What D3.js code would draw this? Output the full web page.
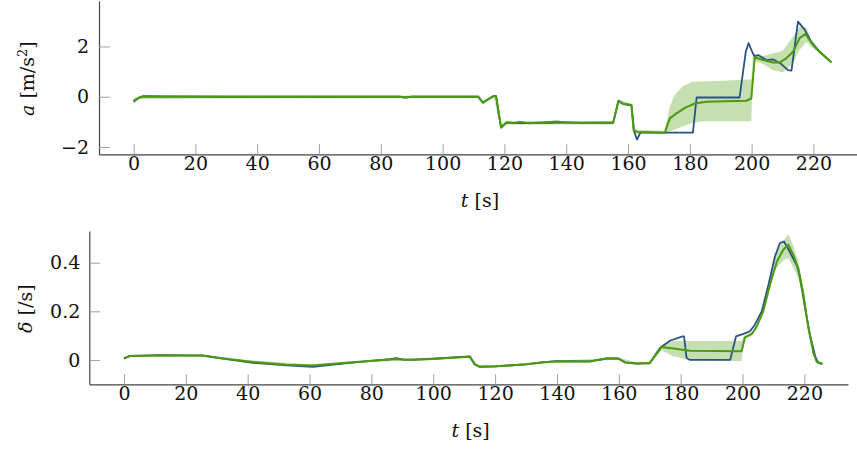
<!DOCTYPE html>
<html>
<head>
<meta charset="utf-8">
<script src="https://cdn.jsdelivr.net/npm/d3@7"></script>
<style>
	body { margin: 0; background: #fff; }
	svg { display: block; }
</style>
</head>
<body>
<svg id="chart" width="857" height="454"></svg>
<script>
// top panel: acceleration a [m/s^2]
const accRefT = [0, 1.5, 3, 10, 30, 50, 70, 86, 88, 90, 100, 111.5, 113, 116.5, 117.3, 118.9, 120.7, 125, 130, 135, 140, 145, 150, 155.2, 156.9, 158.4, 161.1, 162, 162.9, 164, 172, 181, 182.2, 196.1, 198.1, 199, 200.3, 201, 202.1, 204.8, 206.9, 209.6, 211.8, 212.9, 215, 217.2, 219.3, 222, 225.8];
const accRef = [-0.2, -0.05, 0.02, 0.01, 0, 0, 0, 0, -0.03, 0, 0, 0, -0.24, 0.03, 0.02, -1.23, -1.03, -1.05, -1.05, -1.04, -1.02, -1.04, -1.04, -1.04, -0.16, -0.29, -0.34, -1.39, -1.7, -1.43, -1.43, -1.43, -0.03, -0.03, 1.79, 2.13, 1.75, 1.6, 1.66, 1.46, 1.49, 1.3, 1.06, 1.04, 2.99, 2.66, 2.19, 1.79, 1.37];

const accEstT = [0, 1.5, 3, 20, 40, 60, 80, 86, 88, 90, 100, 111.5, 113, 116.5, 117.3, 118.9, 120.7, 123, 125, 128, 132, 137, 140, 145, 150, 155.2, 156.9, 158.4, 161.1, 161.8, 163, 171.9, 173.5, 175.7, 178.4, 181.6, 185.4, 198.3, 199.9, 201, 203.7, 206.9, 209, 211.2, 213.4, 215.5, 217.5, 218.3, 219.9, 222, 225.8];
const accEst = [-0.15, -0.05, 0, 0, 0, 0, 0, 0, -0.03, 0, 0, 0, -0.22, 0.03, 0.02, -1.2, -1.02, -1.05, -1.0, -1.05, -1.02, -0.98, -1.02, -1.03, -1.02, -1.02, -0.18, -0.28, -0.33, -1.33, -1.4, -1.43, -0.86, -0.66, -0.44, -0.27, -0.2, -0.16, -0.07, 1.57, 1.46, 1.36, 1.36, 1.53, 1.79, 2.33, 2.5, 2.33, 2.06, 1.79, 1.37];

const accBandT = [0, 2, 112, 113, 116.5, 118.9, 120.7, 155.2, 156.9, 161.1, 162, 171.9, 173.5, 175.1, 177.8, 181, 184.3, 199.9, 200.4, 203.7, 206.9, 209, 210.2, 213.4, 215.5, 217.7, 219.3, 222, 225.8];
const accBandLo = [-0.25, -0.08, -0.05, -0.3, -0.03, -1.3, -1.1, -1.1, -0.22, -0.4, -1.45, -1.48, -1.38, -1.3, -1.17, -1.03, -0.97, -0.97, 1.45, 1.3, 1.05, 1.0, 0.96, 1.33, 1.86, 2.19, 1.99, 1.72, 1.32];
const accBandHi = [-0.1, 0.05, 0.05, -0.18, 0.08, -1.15, -0.95, -0.97, -0.1, -0.28, -1.3, -1.36, -0.4, 0.07, 0.43, 0.6, 0.61, 0.69, 1.72, 1.62, 1.73, 1.78, 1.86, 2.39, 2.79, 2.76, 2.26, 1.86, 1.42];

// bottom panel: steering rate delta [/s]
const steerRefT = [0, 1.8, 12, 25.5, 30.9, 41.7, 52.5, 61.1, 73, 80.5, 86, 88.1, 90, 93.5, 99.7, 111.8, 113.4, 115, 120, 130, 135, 140, 150.6, 156, 159.8, 162, 165.8, 170, 173.3, 176.5, 180.6, 181.1, 181.9, 183, 196, 197.9, 200.3, 202.4, 204, 206.2, 208.4, 210.5, 212.1, 213.4, 214.3, 217.7, 218.6, 220.2, 221.8, 223.5, 224.5, 225.8];
const steerRef = [0.005, 0.016, 0.02, 0.018, 0.008, -0.012, -0.022, -0.028, -0.012, -0.003, 0.003, 0.008, 0.002, 0.001, 0.005, 0.015, -0.018, -0.028, -0.026, -0.018, -0.01, -0.005, -0.006, 0.006, 0.006, -0.01, -0.015, -0.012, 0.049, 0.079, 0.097, 0.097, 0.008, 0, 0, 0.097, 0.107, 0.118, 0.145, 0.2, 0.31, 0.426, 0.48, 0.487, 0.467, 0.385, 0.337, 0.214, 0.104, 0.015, -0.012, -0.016];

const steerEstT = [0, 1.8, 10, 25.5, 30.9, 41.7, 52.5, 61.1, 73, 80.5, 88.1, 90, 93.5, 99.7, 111.8, 113.4, 115, 120, 130, 135, 140, 150.6, 156, 159.8, 162, 165.8, 170, 173.8, 177.6, 183, 199.7, 200.8, 203, 204.6, 206.7, 208.9, 211.1, 213.2, 214.8, 216.4, 218, 219.7, 221.3, 222.9, 224, 225.8];
const steerEst = [0.007, 0.016, 0.018, 0.018, 0.008, -0.008, -0.02, -0.023, -0.01, -0.003, 0.004, 0.002, 0.001, 0.004, 0.013, -0.018, -0.028, -0.026, -0.018, -0.01, -0.005, -0.006, 0.006, 0.006, -0.01, -0.015, -0.013, 0.053, 0.047, 0.038, 0.036, 0.093, 0.107, 0.138, 0.2, 0.31, 0.405, 0.453, 0.474, 0.432, 0.378, 0.268, 0.131, 0.029, -0.008, -0.016];

const steerBandT = [0, 2, 25, 40, 60, 80, 100, 112, 114, 120, 140, 160, 166, 170, 172.5, 173.8, 177.6, 183, 199.7, 200.5, 203, 204.6, 206.7, 208.9, 210.5, 213.2, 214.8, 216.4, 218, 219.7, 221.3, 222.9, 224, 225.8];
const steerBandLo = [0.004, 0.013, 0.014, -0.008, -0.028, -0.008, 0.0, 0.01, -0.026, -0.032, -0.01, 0.001, -0.018, -0.019, 0.02, 0.04, 0.015, 0.001, -0.005, 0.085, 0.1, 0.13, 0.19, 0.295, 0.37, 0.41, 0.419, 0.38, 0.337, 0.245, 0.115, 0.022, -0.015, -0.022];
const steerBandHi = [0.012, 0.021, 0.022, 0.0, -0.018, 0.0, 0.008, 0.018, -0.018, -0.024, -0.002, 0.009, -0.01, -0.009, 0.035, 0.06, 0.078, 0.078, 0.078, 0.1, 0.115, 0.145, 0.21, 0.325, 0.425, 0.49, 0.517, 0.47, 0.405, 0.29, 0.145, 0.036, 0.0, -0.01];

// ticks
const timeTicks = [0, 20, 40, 60, 80, 100, 120, 140, 160, 180, 200, 220];
const accTicks = [-2, 0, 2];
const steerTicks = [0, 0.2, 0.4];

const refColor = '#2a5385';
const estColor = '#4c9a0f';
const bandColor = '#c6dfb1';
const serif = 'DejaVu Serif';
const fontSize = 19;

const svg = d3.select('#chart');

function drawPanel(p) {
	const x = d3.scaleLinear().domain([-11.2, 234.1]).range([p.left, p.right]);
	const y = d3.scaleLinear().domain(p.yDomain).range([p.bottom, p.top]);
	const g = svg.append('g');

	// shaded band
	g.append('path')
		.datum(d3.zip(p.bandT, p.bandLo, p.bandHi))
		.attr('fill', bandColor)
		.attr('d', d3.area().x((d) => x(d[0])).y0((d) => y(d[1])).y1((d) => y(d[2])));

	const line = d3.line().x((d) => x(d[0])).y((d) => y(d[1]));
	g.append('path')
		.datum(d3.zip(p.refT, p.ref))
		.attr('fill', 'none')
		.attr('stroke', refColor)
		.attr('stroke-width', 1.8)
		.attr('stroke-linejoin', 'round')
		.attr('d', line);
	g.append('path')
		.datum(d3.zip(p.estT, p.est))
		.attr('fill', 'none')
		.attr('stroke', estColor)
		.attr('stroke-width', 2)
		.attr('stroke-linejoin', 'round')
		.attr('d', line);

	// axes
	const gx = g.append('g')
		.attr('transform', `translate(0,${p.bottom})`)
		.call(d3.axisBottom(x).tickValues(timeTicks).tickSizeInner(-10).tickSizeOuter(0).tickPadding(2));
	const gy = g.append('g')
		.attr('transform', `translate(${p.left},0)`)
		.call(d3.axisLeft(y).tickValues(p.yTicks).tickFormat(p.yFormat).tickSizeInner(-11).tickSizeOuter(0).tickPadding(p.yPad));

	[gx, gy].forEach((a) => {
		a.attr('font-family', serif).attr('font-size', fontSize);
		a.select('.domain').attr('stroke', '#444').attr('stroke-width', 1.2);
		a.selectAll('.tick line').attr('stroke', '#a0a0a0').attr('stroke-width', 1);
		a.selectAll('.tick text').attr('fill', '#111');
	});

	// x label
	const xl = g.append('text')
		.attr('x', (p.left + p.right) / 2 + 2)
		.attr('y', p.bottom + 53)
		.attr('text-anchor', 'middle')
		.attr('font-family', serif)
		.attr('font-size', fontSize)
		.attr('fill', '#111');
	xl.append('tspan').attr('font-style', 'italic').text('t');
	xl.append('tspan').text(' [s]');

	// y label
	const yl = g.append('text')
		.attr('transform', `translate(${p.yLabelX},${(p.top + p.bottom) / 2 + 1}) rotate(-90)`)
		.attr('text-anchor', 'middle')
		.attr('font-family', serif)
		.attr('font-size', fontSize)
		.attr('fill', '#111');
	p.yLabel(yl);
}

drawPanel({
	left: 99, right: 857, top: 1, bottom: 154.3,
	yDomain: [-2.29, 3.81],
	yTicks: accTicks,
	yFormat: d3.format('d'),
	yPad: 10,
	yLabelX: 34,
	yLabel: (t) => {
		t.append('tspan').attr('font-style', 'italic').text('a');
		t.append('tspan').text(' [m/s');
		t.append('tspan').attr('font-size', 13).attr('dy', -7).text('2');
		t.append('tspan').attr('dy', 7).text(']');
	},
	refT: accRefT, ref: accRef,
	estT: accEstT, est: accEst,
	bandT: accBandT, bandLo: accBandLo, bandHi: accBandHi,
});

drawPanel({
	left: 89.3, right: 848, top: 231, bottom: 384.3,
	yDomain: [-0.1, 0.53],
	yTicks: steerTicks,
	yFormat: (d) => (d === 0 ? '0' : d3.format('.1f')(d)),
	yPad: 9,
	yLabelX: 32,
	yLabel: (t) => {
		t.append('tspan').attr('font-style', 'italic').text('δ');
		t.append('tspan').text(' [/s]');
	},
	refT: steerRefT, ref: steerRef,
	estT: steerEstT, est: steerEst,
	bandT: steerBandT, bandLo: steerBandLo, bandHi: steerBandHi,
});
</script>
</body>
</html>
